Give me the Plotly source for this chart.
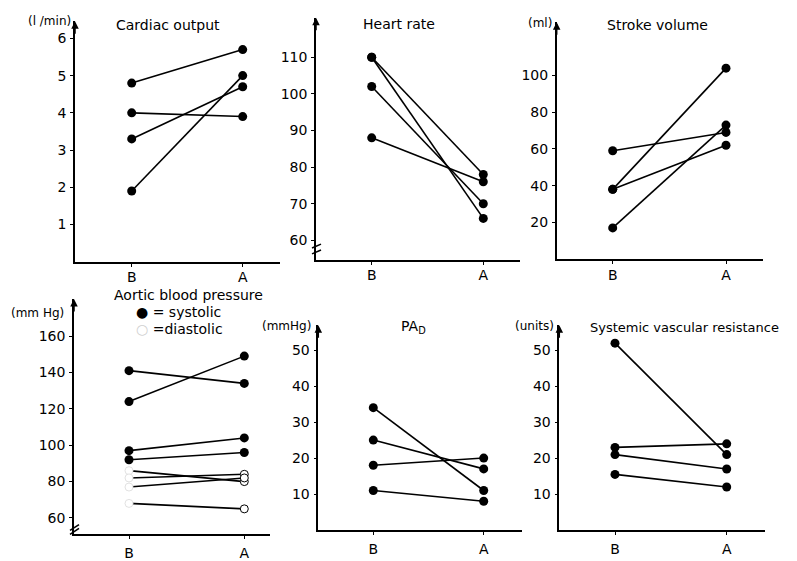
import plotly.graph_objects as go

# ---------------- data ----------------
x_labels = ["B", "A"]

co_B = [4.8, 4.0, 3.3, 1.9]
co_A = [5.7, 3.9, 4.7, 5.0]

hr_B = [110, 110, 102, 88]
hr_A = [78, 66, 70, 76]

sv_B = [59, 38, 38, 17]
sv_A = [69, 104, 62, 73]

sys_B = [141, 124, 97, 92]
sys_A = [134, 149, 104, 96]
dia_B = [86, 82, 77, 68]
dia_A = [80, 84, 82, 65]

pad_B = [34, 25, 18, 11]
pad_A = [11, 17, 20, 8]

svr_B = [52, 23, 21, 15.5]
svr_A = [21, 24, 17, 12]

ticks_co = [1, 2, 3, 4, 5, 6]
ticks_hr = [60, 70, 80, 90, 100, 110]
ticks_sv = [20, 40, 60, 80, 100]
ticks_bp = [60, 80, 100, 120, 140, 160]
ticks_pad = [10, 20, 30, 40, 50]
ticks_svr = [10, 20, 30, 40, 50]

# ---------------- layout helpers ----------------
W, H = 797, 561
FONT = "DejaVu Sans"


def px_x(p):
    return p / W


def px_y(p):
    return 1 - p / H


# panel geometry in pixels: axis left, axis right, B pos, A pos, top, bottom, y range
panels = [
    dict(x0=75, x1=280, xb=131.7, xa=242.7, top=21.7, bot=267, yr=[0, 6.46], tv=ticks_co, so=-1),
    dict(x0=316, x1=520, xb=371.7, xa=483.3, top=18, bot=265, yr=[54.7, 120.8], tv=ticks_hr, so=-1),
    dict(x0=556.7, x1=763, xb=612.7, xa=726, top=22.7, bot=264.3, yr=[0, 129], tv=ticks_sv, so=-1),
    dict(x0=74, x1=270, xb=129, xa=244.3, top=305, bot=545, yr=[51, 180.4], tv=ticks_bp, so=2),
    dict(x0=318.3, x1=521.7, xb=373.3, xa=483.7, top=331.7, bot=540.7, yr=[0, 56.9], tv=ticks_pad, so=2),
    dict(x0=559.3, x1=765, xb=615, xa=726.7, top=331.7, bot=540.7, yr=[0, 57], tv=ticks_svr, so=2),
]

fig = go.Figure()

LW = 1.6
MS = 9


def add_pairs(idx, B, A, marker=None):
    ax = "" if idx == 1 else str(idx)
    for b, a in zip(B, A):
        fig.add_trace(go.Scatter(
            x=[0, 1], y=[b, a], mode="lines+markers",
            xaxis="x" + ax, yaxis="y" + ax,
            line=dict(color="black", width=LW),
            marker=marker or dict(size=MS, color="black"),
            showlegend=False, hoverinfo="skip", cliponaxis=False,
        ))


add_pairs(1, co_B, co_A)
add_pairs(2, hr_B, hr_A)
add_pairs(3, sv_B, sv_A)
add_pairs(4, dia_B, dia_A,
          marker=dict(size=8, color="white",
                      line=dict(color=["#e2e2e2", "black"], width=1)))
add_pairs(4, sys_B, sys_A)
add_pairs(5, pad_B, pad_A)
add_pairs(6, svr_B, svr_A)

layout = dict(
    width=W, height=H,
    margin=dict(l=0, r=0, t=0, b=0),
    paper_bgcolor="white", plot_bgcolor="white",
    font=dict(family=FONT, size=14, color="black"),
    showlegend=False,
)

annotations = []
shapes = []

for i, p in enumerate(panels, start=1):
    ax = "" if i == 1 else str(i)
    s = p["xa"] - p["xb"]
    xr = [(p["x0"] - p["xb"]) / s, (p["x1"] - p["xb"]) / s]
    layout["xaxis" + ax] = dict(
        domain=[px_x(p["x0"]), px_x(p["x1"])],
        range=xr, tickvals=[0, 1], ticktext=x_labels,
        showline=True, linecolor="black", linewidth=1.5,
        ticks="outside", ticklen=3, tickwidth=1.2, tickcolor="black",
        showgrid=False, zeroline=False, anchor="y" + ax,
        tickfont=dict(size=14, family=FONT),
        ticklabelstandoff=p["so"],
        fixedrange=True,
    )
    layout["yaxis" + ax] = dict(
        domain=[px_y(p["bot"]), px_y(p["top"])],
        range=p["yr"], tickvals=p["tv"],
        showline=True, linecolor="black", linewidth=1.5,
        ticks="outside", ticklen=3, tickwidth=1.2, tickcolor="black",
        showgrid=False, zeroline=False, anchor="x" + ax,
        tickfont=dict(size=14, family=FONT),
        ticklabelstandoff=1,
        fixedrange=True,
    )
    # arrow at the top of y axis
    annotations.append(dict(
        x=0, y=1, xref=("x" + ax + " domain") if ax else "x domain",
        yref=("y" + ax + " domain") if ax else "y domain",
        text="", showarrow=True, ax=0, ay=14, arrowhead=2,
        arrowsize=1, arrowwidth=1.5, arrowcolor="black",
    ))

# titles
def ann(text, x, y, size=14, xanchor="center"):
    annotations.append(dict(
        text=text, x=px_x(x), y=px_y(y), xref="paper", yref="paper",
        showarrow=False, xanchor=xanchor, yanchor="middle",
        font=dict(size=size, family=FONT, color="black"),
    ))

ann("Cardiac output", 168, 25)
ann("Heart rate", 399, 24)
ann("Stroke volume", 657, 26)
ann("Aortic blood pressure", 188, 301)
ann("● = systolic", 134, 318, xanchor="left")
ann("<span style='color:#d0d0d0'>○</span> =diastolic", 134, 336, xanchor="left")
ann("PA<sub>D</sub>", 414, 334)
ann("Systemic vascular resistance", 684, 334, size=13)

# units
ann("(l /min)", 73, 21, size=12, xanchor="right")
ann("(ml)", 554, 23, size=12, xanchor="right")
ann("(mm Hg)", 66, 319, size=12, xanchor="right")
ann("(mmHg)", 313, 333, size=12, xanchor="right")
ann("(units)", 556, 333, size=12, xanchor="right")

# axis break marks
def seg(x0, y0, x1, y1):
    shapes.append(dict(type="line", xref="paper", yref="paper",
                       x0=px_x(x0), y0=px_y(y0), x1=px_x(x1), y1=px_y(y1),
                       line=dict(color="black", width=1.5)))

seg(312, 253, 321, 249)
seg(312, 259, 321, 255)
seg(70, 541, 79, 535)
seg(70, 545, 79, 539)

layout["annotations"] = annotations
layout["shapes"] = shapes
fig.update_layout(**layout)

page_js = (
    "var de=document.documentElement, b=document.body;"
    "de.style.margin='0';de.style.padding='0';de.style.overflow='hidden';"
    "b.style.margin='0';b.style.padding='0';b.style.overflow='hidden';"
    "var gd=document.getElementById('{plot_id}');"
    "var w=window.innerWidth||%d, h=window.innerHeight||%d;"
    "if(Math.abs(w-%d)>2||Math.abs(h-%d)>2){"
    "gd.style.width=w+'px';gd.style.height=h+'px';"
    "Plotly.relayout(gd,{width:w,height:h});}" % (W, H, W, H)
)

fig.write_html(
    "out.html",
    config={"displayModeBar": False},
    post_script=page_js,
)
